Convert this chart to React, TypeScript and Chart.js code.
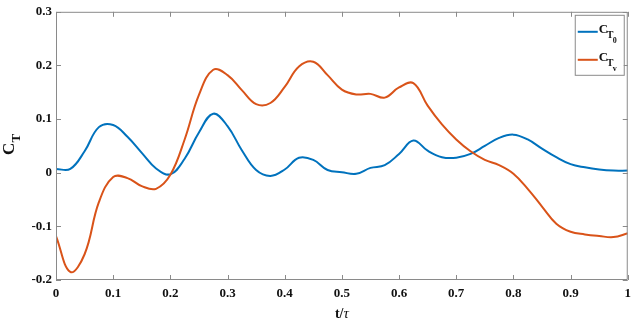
import React, { useEffect, useRef } from "react";
import { Chart, registerables } from "chart.js";

Chart.register(...registerables);

const tValues = [
  0, 0.025, 0.05, 0.075, 0.1, 0.125, 0.15, 0.175, 0.2, 0.225,
  0.25, 0.275, 0.3, 0.325, 0.35, 0.375, 0.4, 0.425, 0.45, 0.475,
  0.5, 0.525, 0.55, 0.575, 0.6, 0.625, 0.65, 0.675, 0.7, 0.725,
  0.75, 0.775, 0.8, 0.825, 0.85, 0.875, 0.9, 0.925, 0.95, 0.975, 1.0,
];

const ct0Values = [
  0.007, 0.007, 0.04, 0.085, 0.089, 0.067, 0.037, 0.008, -0.003, 0.026,
  0.075, 0.11, 0.087, 0.042, 0.005, -0.006, 0.006, 0.028, 0.024, 0.005,
  0.001, -0.002, 0.009, 0.014, 0.035, 0.06, 0.041, 0.029, 0.028, 0.035,
  0.05, 0.065, 0.071, 0.062, 0.045, 0.029, 0.016, 0.01, 0.006, 0.004, 0.004,
];

const ctvValues = [
  -0.118, -0.185, -0.152, -0.055, -0.008, -0.01, -0.025, -0.03, -0.004, 0.062,
  0.145, 0.192, 0.182, 0.154, 0.128, 0.13, 0.16, 0.198, 0.207, 0.182,
  0.155, 0.146, 0.147, 0.14, 0.159, 0.167, 0.125, 0.09, 0.062, 0.04,
  0.024, 0.014, -0.002, -0.03, -0.063, -0.095, -0.11, -0.115, -0.118, -0.12, -0.113,
];

const xTicks = [0, 0.1, 0.2, 0.3, 0.4, 0.5, 0.6, 0.7, 0.8, 0.9, 1];
const yTicks = [-0.2, -0.1, 0, 0.1, 0.2, 0.3];

const seriesNames = ["0", "v"];
const BLUE = "#0072BD";
const ORANGE = "#D95319";
const AXIS = "#8a8a8a";
const FONT = "'Liberation Serif', 'Times New Roman', serif";

const fmt = (v: number) => String(Number(v.toFixed(1)));

export default function App() {
  const ref = useRef<HTMLCanvasElement | null>(null);

  useEffect(() => {
    const canvas = ref.current;
    if (!canvas) return;

    const framePlugin = {
      id: "frame",
      afterDatasetsDraw(chart: any) {
        const ctx = chart.ctx;
        const { left, right, top, bottom } = chart.chartArea;
        const xs = chart.scales.x;
        const ys = chart.scales.y;
        ctx.save();
        ctx.strokeStyle = AXIS;
        ctx.lineWidth = 1;
        ctx.beginPath();
        ctx.rect(left + 0.5, top + 0.5, right - left - 1, bottom - top - 1);
        ctx.stroke();
        const tl = 5;
        ctx.beginPath();
        for (const v of xTicks) {
          const px = Math.round(xs.getPixelForValue(v)) + 0.5;
          ctx.moveTo(px, bottom);
          ctx.lineTo(px, bottom - tl);
          ctx.moveTo(px, top);
          ctx.lineTo(px, top + tl);
        }
        for (const v of yTicks) {
          const py = Math.round(ys.getPixelForValue(v)) + 0.5;
          ctx.moveTo(left, py);
          ctx.lineTo(left + tl, py);
          ctx.moveTo(right, py);
          ctx.lineTo(right - tl, py);
        }
        ctx.stroke();

        // legend
        const bx = right - 53;
        const by = top + 3;
        const bw = 49;
        const bh = 60;
        ctx.fillStyle = "#ffffff";
        ctx.fillRect(bx, by, bw, bh);
        ctx.strokeStyle = AXIS;
        ctx.strokeRect(bx + 0.5, by + 0.5, bw, bh);
        const colors = [BLUE, ORANGE];
        const rows = [by + 17, by + 45];
        for (let i = 0; i < 2; i++) {
          const ly = rows[i];
          ctx.strokeStyle = colors[i];
          ctx.lineWidth = 2;
          ctx.beginPath();
          ctx.moveTo(bx + 3, ly);
          ctx.lineTo(bx + 23, ly);
          ctx.stroke();
          ctx.fillStyle = "#111";
          ctx.textBaseline = "alphabetic";
          ctx.textAlign = "left";
          ctx.font = `bold 13px ${FONT}`;
          ctx.fillText("C", bx + 24, ly + 1);
          ctx.font = `bold 10px ${FONT}`;
          ctx.fillText("T", bx + 32, ly + 6);
          ctx.font = `bold 8px ${FONT}`;
          ctx.fillText(seriesNames[i], bx + 38, ly + 11);
        }
        ctx.restore();
      },
      afterDraw(chart: any) {
        const ctx = chart.ctx;
        const { left, right, top, bottom } = chart.chartArea;
        ctx.save();
        ctx.fillStyle = "#111";
        // y title
        ctx.translate(14, (top + bottom) / 2 + 9);
        ctx.rotate(-Math.PI / 2);
        ctx.textAlign = "left";
        ctx.textBaseline = "alphabetic";
        ctx.font = `bold 17px ${FONT}`;
        ctx.fillText("C", 0, 0);
        const cw = ctx.measureText("C").width;
        ctx.font = `bold 13px ${FONT}`;
        ctx.fillText("T", cw, 6);
        ctx.restore();

        ctx.save();
        ctx.fillStyle = "#111";
        ctx.textBaseline = "alphabetic";
        ctx.textAlign = "left";
        const cx = (left + right) / 2;
        const y = 318;
        ctx.font = `bold 14px ${FONT}`;
        const w1 = ctx.measureText("t/").width;
        ctx.font = `italic 15px ${FONT}`;
        const w2 = ctx.measureText("τ").width;
        const start = cx - (w1 + w2) / 2;
        ctx.font = `bold 14px ${FONT}`;
        ctx.fillText("t/", start, y);
        ctx.font = `italic 15px ${FONT}`;
        ctx.fillText("τ", start + w1, y);
        ctx.restore();
      },
    };

    const chart = new Chart(canvas, {
      type: "line",
      data: {
        datasets: [
          {
            label: "CT0",
            data: tValues.map((t, i) => ({ x: t, y: ct0Values[i] })),
            borderColor: BLUE,
            borderWidth: 2,
            pointRadius: 0,
            tension: 0.4,
            fill: false,
            order: 1,
          },
          {
            label: "CTv",
            data: tValues.map((t, i) => ({ x: t, y: ctvValues[i] })),
            borderColor: ORANGE,
            borderWidth: 2,
            pointRadius: 0,
            tension: 0.4,
            fill: false,
            order: 0,
          },
        ],
      },
      options: {
        responsive: false,
        animation: false,
        events: [],
        layout: { padding: { top: 7, right: 6, left: 0, bottom: 0 } },
        plugins: {
          legend: { display: false },
          tooltip: { enabled: false },
          title: { display: false },
        },
        scales: {
          x: {
            type: "linear",
            min: 0,
            max: 1,
            grid: { display: false, drawTicks: false },
            border: { display: false },
            afterFit: (s: any) => {
              s.height = 42;
            },
            afterBuildTicks: (s: any) => {
              s.ticks = xTicks.map((v) => ({ value: v }));
            },
            ticks: {
              padding: 6,
              maxRotation: 0,
              autoSkip: false,
              color: "#111",
              font: { family: FONT, size: 13, weight: "bold" },
              callback: (v: any) => fmt(Number(v)),
            },
          },
          y: {
            type: "linear",
            min: -0.2,
            max: 0.3,
            grid: { display: false, drawTicks: false },
            border: { display: false },
            afterFit: (s: any) => {
              s.width = 56;
            },
            afterBuildTicks: (s: any) => {
              s.ticks = yTicks.map((v) => ({ value: v }));
            },
            ticks: {
              padding: 4,
              autoSkip: false,
              color: "#111",
              font: { family: FONT, size: 13, weight: "bold" },
              callback: (v: any) => fmt(Number(v)),
            },
          },
        },
      },
      plugins: [framePlugin],
    } as any);

    return () => chart.destroy();
  }, []);

  return (
    <div style={{ position: "fixed", left: 0, top: 0, width: 637, height: 322, background: "#fff" }}>
      <canvas ref={ref} width={637} height={322} style={{ display: "block", width: 637, height: 322 }} />
    </div>
  );
}
